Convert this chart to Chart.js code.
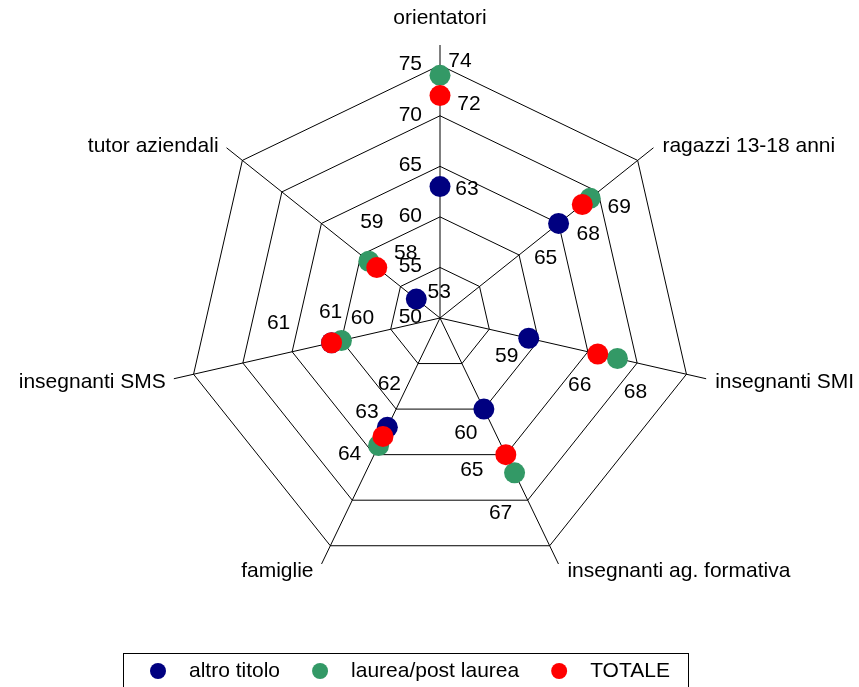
<!DOCTYPE html>
<html>
<head>
<meta charset="utf-8">
<script src="https://cdn.jsdelivr.net/npm/chart.js@4"></script>
<style>
  html, body { margin: 0; padding: 0; background: #fff; }
  #wrap { width: 859px; height: 687px; }
</style>
</head>
<body>
<div id="wrap"><canvas id="radarChart" width="859" height="687"></canvas></div>
<script>
// categories and values
const categories = ['orientatori', 'ragazzi 13-18 anni', 'insegnanti SMI', 'insegnanti ag. formativa', 'famiglie', 'insegnanti SMS', 'tutor aziendali'];
const altroTitolo = [63, 65, 59, 60, 62, 61, 53];
const laurea = [74, 69, 68, 67, 64, 60, 59];
const totale = [72, 68, 66, 65, 63, 61, 58];
const tickValues = [50, 55, 60, 65, 70, 75];

// where each value label sits relative to its point (dx, dy)
const labelOffsets = [
  [[27, 3], [-13, 35], [-22, 18], [-18, 24], [2, -43], [-53, -20], [23, -7]],
  [[20, -14], [29, 9], [18, 34], [-14, 40], [-29, 9], [21, -22], [3, -39]],
  [[29, 9], [6, 30], [-18, 31], [-34, 16], [-16, -24], [-1, -31], [29, -14]]
];

const FONT = '21px Arial, "Liberation Sans", sans-serif';

const textPlugin = {
  id: 'radarText',
  afterDraw(chart) {
    const ctx = chart.ctx;
    const r = chart.scales.r;
    const R = r.drawingArea;
    ctx.save();
    ctx.fillStyle = '#000';
    ctx.font = FONT;

    // tick labels along the top axis
    ctx.textAlign = 'right';
    ctx.textBaseline = 'middle';
    tickValues.forEach(v => {
      const p = r.getPointPositionForValue(0, v);
      ctx.fillText(String(v), p.x - 18, p.y - 1);
    });

    // axis names
    categories.forEach((name, i) => {
      const a = r.getIndexAngle(i) - Math.PI / 2;
      const c = Math.cos(a), s = Math.sin(a);
      const p = r.getPointPosition(i, R);
      if (Math.abs(c) < 0.1) {
        ctx.textAlign = 'center';
        ctx.fillText(name, p.x, p.y - 27);
      } else {
        ctx.textAlign = c > 0 ? 'left' : 'right';
        ctx.fillText(name, p.x + (c > 0 ? 9 : -8), p.y + 2 + 6 * s);
      }
    });

    // value labels
    ctx.textAlign = 'center';
    chart.data.datasets.forEach((ds, di) => {
      const meta = chart.getDatasetMeta(di);
      meta.data.forEach((pt, i) => {
        const off = labelOffsets[di][i];
        ctx.fillText(String(ds.data[i]), pt.x + off[0], pt.y + off[1]);
      });
    });

    // legend box
    ctx.strokeStyle = '#000';
    ctx.lineWidth = 1;
    ctx.strokeRect(123.5, 653.5, 565, 60);
    let x = 158;
    const y = 671;
    ctx.textAlign = 'left';
    chart.data.datasets.forEach(ds => {
      ctx.beginPath();
      ctx.fillStyle = ds.backgroundColor;
      ctx.arc(x, y, 8, 0, Math.PI * 2);
      ctx.fill();
      ctx.fillStyle = '#000';
      ctx.fillText(ds.label, x + 31, y);
      x = x + 31 + ctx.measureText(ds.label).width + 40;
    });
    ctx.restore();
  }
};

const ctx = document.getElementById('radarChart').getContext('2d');
new Chart(ctx, {
  type: 'radar',
  data: {
    labels: categories,
    datasets: [
      { label: 'altro titolo', data: altroTitolo, backgroundColor: '#000080', order: 3 },
      { label: 'laurea/post laurea', data: laurea, backgroundColor: '#339966', order: 2 },
      { label: 'TOTALE', data: totale, backgroundColor: '#ff0000', order: 1 }
    ].map(d => Object.assign(d, {
      showLine: false,
      fill: false,
      pointRadius: 10.5,
      pointHoverRadius: 10.5,
      pointBorderWidth: 0,
      pointBackgroundColor: d.backgroundColor,
      borderColor: d.backgroundColor
    }))
  },
  options: {
    responsive: false,
    animation: false,
    layout: { padding: { top: 45, bottom: 96, left: 167, right: 146 } },
    plugins: {
      legend: { display: false },
      tooltip: { enabled: false }
    },
    scales: {
      r: {
        min: 50,
        max: 77,
        ticks: { display: false, stepSize: 5 },
        pointLabels: { display: false },
        grid: {
          color: c => (c.tick && c.tick.value % 5 === 0) ? '#000' : 'rgba(0,0,0,0)',
          lineWidth: 1
        },
        angleLines: { color: '#000', lineWidth: 1 }
      }
    }
  },
  plugins: [textPlugin]
});
</script>
</body>
</html>
